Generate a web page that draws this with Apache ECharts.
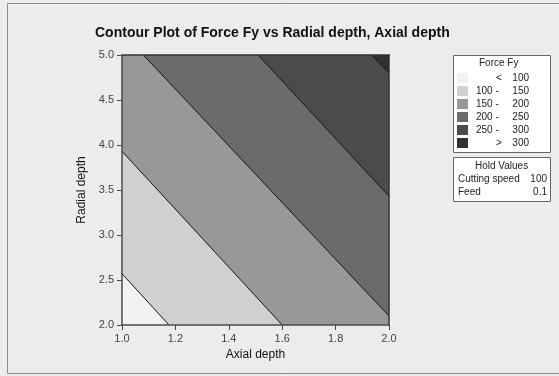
<!DOCTYPE html>
<html>
<head>
<meta charset="utf-8">
<script src="https://cdn.jsdelivr.net/npm/echarts@6/dist/echarts.min.js"></script>
<style>
  html, body { margin: 0; padding: 0; background: #ececec; }
  #main { width: 559px; height: 376px; }
</style>
</head>
<body>
<div id="main"></div>
<script>
// contour lines: [axial, radial] end points
var contour100 = [[1.0, 2.57], [1.176, 2.0]];
var contour150 = [[1.0, 3.93], [1.60, 2.0]];
var contour200 = [[1.08, 5.0], [2.0, 2.10]];
var contour250 = [[1.51, 5.0], [2.0, 3.43]];
var contour300 = [[1.935, 5.0], [2.0, 4.80]];

var levelNames = ['<', '100 -', '150 -', '200 -', '250 -', '>'];
var levelValues = ['100', '150', '200', '250', '300', '300'];
var levelColors = ['#f2f2f2', '#d0d0d0', '#989898', '#6b6b6b', '#4b4b4b', '#313131'];

var holdNames = ['Cutting speed', 'Feed'];
var holdValues = ['100', '0.1'];

var xMin = 1.0, xMax = 2.0, yMin = 2.0, yMax = 5.0;

// region above a contour = the line plus the plot corners on its high side
var contours = [contour100, contour150, contour200, contour250, contour300];
function regionAbove(c) {
  var s = c[0], e = c[1];
  var dx = e[0] - s[0], dy = e[1] - s[1];
  var pts = [s, e];
  [[xMax, yMin], [xMax, yMax], [xMin, yMax]].forEach(function (p) {
    if (dx * (p[1] - s[1]) - dy * (p[0] - s[0]) > 1e-9) pts.push(p);
  });
  return pts;
}
var regions = [[[xMin, yMin], [xMax, yMin], [xMax, yMax], [xMin, yMax]]]
  .concat(contours.map(regionAbove));

var myChart = echarts.init(document.getElementById('main'));

var legendGraphics = [
  // outer frame
  { type: 'rect', shape: { x: 7.5, y: 3.5, width: 560, height: 370 },
    style: { fill: '#ececec', stroke: '#8a8a8a', lineWidth: 1 }, z: -10 },
  { type: 'rect', shape: { x: 453.5, y: 55.5, width: 97, height: 97 },
    style: { fill: '#fff', stroke: '#666', lineWidth: 1 } },
  { type: 'text', left: 479, top: 58,
    style: { text: 'Force Fy', fontSize: 10, fontFamily: 'Liberation Sans', fill: '#222' } },
  { type: 'rect', shape: { x: 453.5, y: 157.5, width: 97, height: 44 },
    style: { fill: '#fff', stroke: '#666', lineWidth: 1 } },
  { type: 'text', left: 475, top: 161,
    style: { text: 'Hold Values', fontSize: 10, fontFamily: 'Liberation Sans', fill: '#222' } }
];
var rowY = [78, 91, 104, 117, 130, 143];
levelNames.forEach(function (n, i) {
  legendGraphics.push({ type: 'rect', shape: { x: 457, y: rowY[i] - 5, width: 11, height: 10 },
    style: { fill: levelColors[i] } });
  var isSign = (n === '<' || n === '>');
  legendGraphics.push({ type: 'text', x: isSign ? 496 : 476, y: rowY[i],
    style: { text: n, fontSize: 10, fontFamily: 'Liberation Sans', fill: '#222', verticalAlign: 'middle' } });
  legendGraphics.push({ type: 'text', x: 529, y: rowY[i],
    style: { text: levelValues[i], fontSize: 10, fontFamily: 'Liberation Sans', fill: '#222',
      align: 'right', verticalAlign: 'middle' } });
});
holdNames.forEach(function (n, i) {
  var y = 179 + i * 13;
  legendGraphics.push({ type: 'text', x: 458, y: y,
    style: { text: n, fontSize: 10, fontFamily: 'Liberation Sans', fill: '#222', verticalAlign: 'middle' } });
  legendGraphics.push({ type: 'text', x: 547, y: y,
    style: { text: holdValues[i], fontSize: 10, fontFamily: 'Liberation Sans', fill: '#222',
      align: 'right', verticalAlign: 'middle' } });
});

var axisCommon = {
  z: 5,
  axisLine: { show: true, lineStyle: { color: '#4a4a4a', width: 1.5 } },
  axisTick: { show: true, length: 5, lineStyle: { color: '#4a4a4a' } },
  splitLine: { show: false },
  nameTextStyle: { color: '#111', fontSize: 12, fontFamily: 'Liberation Sans' },
  axisLabel: { color: '#444', fontSize: 11, fontFamily: 'Liberation Sans',
    formatter: function (v) { return v.toFixed(1); } }
};

option = {
  backgroundColor: '#ececec',
  animation: false,
  title: {
    text: 'Contour Plot of Force Fy vs Radial depth, Axial depth',
    left: 90,
    top: 21,
    textStyle: { color: '#111', fontSize: 14, fontWeight: 'bold', fontFamily: 'Liberation Sans' }
  },
  graphic: legendGraphics,
  grid: { left: 122, right: 170, top: 55, bottom: 51 },
  xAxis: [
    Object.assign({}, axisCommon, {
      type: 'value', min: xMin, max: xMax, interval: 0.2,
      name: 'Axial depth', nameLocation: 'middle', nameGap: 22
    }),
    { type: 'value', position: 'top', min: xMin, max: xMax, z: 5,
      axisLine: { show: true, onZero: false, lineStyle: { color: '#333', width: 1.5 } },
      axisTick: { show: false }, axisLabel: { show: false }, splitLine: { show: false } }
  ],
  yAxis: [
    Object.assign({}, axisCommon, {
      type: 'value', min: yMin, max: yMax, interval: 0.5,
      name: 'Radial depth', nameLocation: 'middle', nameGap: 34
    }),
    { type: 'value', position: 'right', min: yMin, max: yMax, z: 5,
      axisLine: { show: true, onZero: false, lineStyle: { color: '#333', width: 1.5 } },
      axisTick: { show: false }, axisLabel: { show: false }, splitLine: { show: false } }
  ],
  series: [
    {
      type: 'custom',
      data: regions.map(function (r, i) { return [i]; }),
      renderItem: function (params, api) {
        var i = api.value(0);
        return {
          type: 'polygon',
          shape: { points: regions[i].map(function (p) { return api.coord(p); }) },
          style: { fill: levelColors[i], stroke: levelColors[i], lineWidth: 0.5 }
        };
      },
      clip: true,
      z: 1
    }
  ].concat(contours.map(function (c) {
    return {
      type: 'line',
      data: c,
      symbol: 'none',
      silent: true,
      lineStyle: { color: '#1a1a1a', width: 1 },
      z: 2
    };
  }))
};

myChart.setOption(option);
</script>
</body>
</html>
